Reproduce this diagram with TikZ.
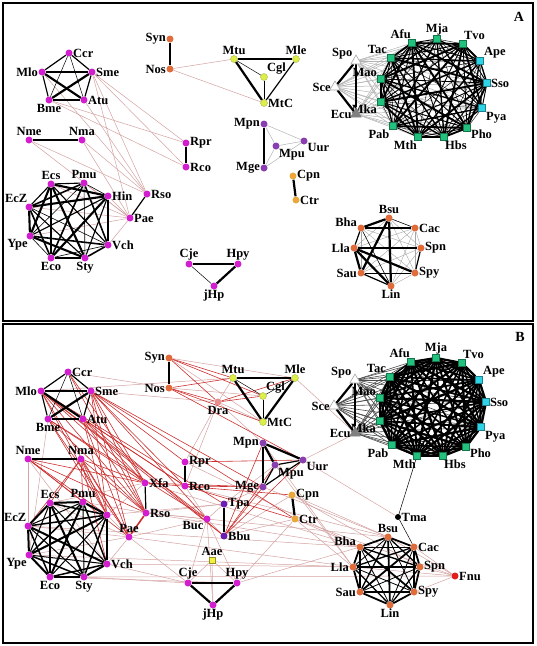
\documentclass[tikz,border=0pt]{standalone}
\usepackage{fontspec}
\setmainfont{Liberation Serif}
\usetikzlibrary{backgrounds,shapes.geometric}
\definecolor{cMag}{HTML}{D21ECF}
\definecolor{cOrg}{HTML}{E06C3C}
\definecolor{cYel}{HTML}{DCEE4A}
\definecolor{cPur}{HTML}{8A3FB0}
\definecolor{cGld}{HTML}{EBA83A}
\definecolor{cGrn}{HTML}{22C27E}
\definecolor{cCyn}{HTML}{2ED3E6}
\definecolor{cDra}{HTML}{E89090}
\definecolor{cVio}{HTML}{6A1FB0}
\definecolor{cAae}{HTML}{F2F23C}
\definecolor{cFnu}{HTML}{E01E1E}
\definecolor{cRed}{HTML}{CC2E2E}
\definecolor{cPnk}{HTML}{D4A2A2}
\tikzstyle{vtx}=[circle, inner sep=0pt, minimum size=7pt]
\tikzstyle{mg}=[vtx, fill=cMag]
\tikzstyle{og}=[vtx, fill=cOrg]
\tikzstyle{yg}=[vtx, fill=cYel, draw=cYel!70!black, line width=0.3pt]
\tikzstyle{pu}=[vtx, fill=cPur]
\tikzstyle{gd}=[vtx, fill=cGld]
\tikzstyle{gsq}=[rectangle, inner sep=0pt, minimum size=7pt, fill=cGrn, draw=cGrn!60!black, line width=0.3pt]
\tikzstyle{csq}=[gsq, fill=cCyn, draw=cCyn!60!black]
\tikzstyle{tri}=[regular polygon, regular polygon sides=3, inner sep=0pt, minimum size=12pt, draw=gray!70, fill=white, line width=0.6pt]
\tikzstyle{hv}=[line width=2.2pt]
\tikzstyle{md}=[line width=1.2pt]
\tikzstyle{tn}=[line width=0.5pt]
\tikzstyle{gy}=[line width=0.5pt, gray!60]
\tikzstyle{pk}=[line width=0.5pt, cPnk]
\tikzstyle{rd}=[line width=0.6pt, cRed]
\tikzstyle{frame}=[line width=1.4pt]
\tikzstyle{tag}=[font=\bfseries\fontsize{14}{14}\selectfont]

% node lists: name/x/y/label position
\newcommand{\magList}{Ccr/69/53/right, Mlo/42/72/left, Sme/92/72/right, Bme/49/100/below, Atu/84/100/right, Nme/29/140/above, Nma/82/140/above, Rpr/186/143/right, Rco/186/167/right, Ecs/51/184/above, Pmu/84/183/above, Rso/147/194/right, EcZ/29/207/110, Ype/30/236/240, Vch/108/245/right, Eco/51/258/below, Sty/85/258/below, Cje/189/264/above, Hpy/238/264/above, jHp/214/286/below}
\newcommand{\orgList}{Syn/170/39/left, Nos/170/69/left, Bsu/389/218/above, Bha/361/228/170, Cac/415/228/right, Lla/354/248/left, Spn/421/248/right, Sau/361/273/left, Spy/415/273/right, Lin/391/286/below}
\newcommand{\yelList}{Mtu/234/59/above, Mle/296/59/above, Cgl/264/77/45, MtC/264/103/right}
\newcommand{\purList}{Mpn/264/124/left, Mpu/276/146/-45, Uur/304/141/-30, Mge/264/168/left}
\newcommand{\gldList}{Cpn/293/176/right, Ctr/296/200/right}
\newcommand{\grnList}{Afu/412/43/100, Mja/437/39/above, Tvo/463/44/80, Tac/391/58/135, Mao/381/79/150, Mka/381/102/215, Pab/393/126/230, Mth/418/137/-100, Hbs/444/137/-80, Pho/467/128/-25}
\newcommand{\cynList}{Ape/480/61/30, Sso/487/83/right, Pya/482/108/-45}
\newcommand{\sqNames}{Afu,Mja,Tvo,Ape,Sso,Pya,Pho,Hbs,Mth,Pab,Mka,Mao,Tac}
\newcommand{\octNames}{Ecs,Pmu,Hin,Vch,Sty,Eco,Ype,EcZ}
\newcommand{\firNames}{Bsu,Cac,Spn,Spy,Lin,Sau,Lla,Bha}
\newcommand{\pentEdges}{Mlo/Sme/hv, Mlo/Atu/hv, Sme/Bme/hv, Bme/Atu/hv, Mlo/Ccr/md, Ccr/Sme/md, Mlo/Bme/md, Sme/Atu/md, Ccr/Bme/tn, Ccr/Atu/tn, Nme/Nma/hv, Syn/Nos/hv, Rpr/Rco/hv, Cpn/Ctr/hv, Hpy/jHp/hv, Mpn/Mge/hv, Spo/Ecu/hv, Sce/Spo/hv, Sce/Ecu/hv, Mtu/MtC/hv}

\newcommand{\putnodes}{%
  \foreach \n/\x/\y/\l in \magList {\node[mg, label=\l:\n] (\p-\n) at (\x,\y) {};}
  \foreach \n/\x/\y/\l in \orgList {\node[og, label=\l:\n] (\p-\n) at (\x,\y) {};}
  \foreach \n/\x/\y/\l in \yelList {\node[yg, label=\l:\n] (\p-\n) at (\x,\y) {};}
  \foreach \n/\x/\y/\l in \purList {\node[pu, label=\l:\n] (\p-\n) at (\x,\y) {};}
  \foreach \n/\x/\y/\l in \gldList {\node[gd, label=\l:\n] (\p-\n) at (\x,\y) {};}
  \foreach \n/\x/\y/\l in \grnList {\node[gsq, label=\l:\n] (\p-\n) at (\x,\y) {};}
  \foreach \n/\x/\y/\l in \cynList {\node[csq, label=\l:\n] (\p-\n) at (\x,\y) {};}
  \node[tri, label=160:Spo] (\p-Spo) at (356,61) {};
  \node[tri, label=left:Sce] (\p-Sce) at (335,87) {};
  \node[tri, fill=gray, draw=gray, label=left:Ecu] (\p-Ecu) at (356,114) {};
}

\begin{document}
\begin{tikzpicture}[x=1pt, y=-1pt, every label/.style={font=\bfseries\fontsize{12.5}{12.5}\selectfont, inner sep=0.3pt}, label distance=0pt]
\useasboundingbox (0,0) rectangle (537,646);
\draw[frame] (3,3) rectangle (533,321);
\draw[frame] (3,324) rectangle (533,643);
\node[tag] (tagA) at (519,17) {A};
\node[tag] (tagB) at (520,337) {B};

% panel A
\begin{scope}
\def\p{a}
\putnodes
\node[mg, label=right:Hin] (a-Hin) at (108,196) {};
\node[mg, label=right:Pae] (a-Pae) at (130,218) {};
\begin{pgfonlayer}{background}
\foreach \u/\v in {Nos/Mtu, Nos/MtC, Sme/Rpr, Sme/Rco, Sme/Rso, Sme/Pae, Bme/Rpr, Bme/Rco, Mlo/Rso, Atu/Rso, Nme/Rso, Nme/Pae, Nma/Rso, Nma/Pae, Pae/Hin, Pae/EcZ, Pae/Ype, Pae/Ecs, Pae/Vch, Pae/Pmu}
  \draw[pk] (a-\u) -- (a-\v);
\foreach \u/\v in {Mpn/Mpu, Mpn/Uur, Mpu/Uur, Mge/Mpu, Mge/Uur}
  \draw[gy] (a-\u) -- (a-\v);
\foreach \t in {Spo,Sce,Ecu} \foreach \s in \sqNames \draw[gy] (a-\t) -- (a-\s);
\foreach \u [count=\i] in \firNames {\foreach \v [count=\j] in \firNames {\ifnum\j>\i
  \draw[line width=0.4pt, gray!70] (a-\u) -- (a-\v);\fi}}
\foreach \u/\v/\w in {Bha/Bsu/hv, Bha/Cac/md, Lla/Spn/md, Lla/Sau/hv, Lla/Lin/hv, Lla/Spy/hv, Bsu/Sau/hv, Bsu/Lin/hv, Sau/Lin/md, Spn/Spy/md, Bha/Lla/md, Bha/Lin/tn, Sau/Spy/tn, Bsu/Cac/tn}
  \draw[\w] (a-\u) -- (a-\v);
\foreach \u [count=\i] in \octNames {\foreach \v [count=\j] in \octNames {\ifnum\j>\i
  \draw[line width={0.6+0.5*mod(\i+2*\j,4)}] (a-\u) -- (a-\v);\fi}}
\foreach \u [count=\i] in \sqNames {\foreach \v [count=\j] in \sqNames {\ifnum\j>\i
  \draw[line width={0.4+0.5*mod(\i+2*\j,4)}] (a-\u) -- (a-\v);\fi}}
\foreach \u/\v/\w in \pentEdges \draw[\w] (a-\u) -- (a-\v);
\foreach \u/\v/\w in {Rso/Pae/md, Cje/Hpy/md, Cje/jHp/tn, Mtu/Mle/md, Mtu/Cgl/tn, Mle/MtC/md, Cgl/MtC/tn}
  \draw[\w] (a-\u) -- (a-\v);
\end{pgfonlayer}
\end{scope}

% panel B
\begin{scope}[shift={(-1,319)}]
\def\p{b}
\putnodes
\node[mg] (b-Hin) at (108,196) {};
\node[mg, label=above:Pae] (b-Pae) at (130,218) {};
\node[vtx, fill=cDra, label=below:Dra] (b-Dra) at (219,83) {};
\node[mg, label=right:Xfa] (b-Xfa) at (146,164) {};
\node[vtx, fill=cVio, label=right:Tpa] (b-Tpa) at (225,185) {};
\node[mg, label=215:Buc] (b-Buc) at (208,200) {};
\node[vtx, fill=cVio, label=right:Bbu] (b-Bbu) at (225,217) {};
\node[vtx, rectangle, minimum size=6.5pt, fill=cAae, draw=cAae!60!black, line width=0.3pt, label=above:Aae] (b-Aae) at (213,241) {};
\node[vtx, fill=black, minimum size=6pt, label=right:Tma] (b-Tma) at (399,198) {};
\node[vtx, fill=cFnu, label=right:Fnu] (b-Fnu) at (456,257) {};
\begin{pgfonlayer}{background}
\foreach \u/\v in {Ccr/Nos, Sme/Dra, Mlo/Mtu, Bme/Ype, Nme/EcZ, Nme/Vch, Syn/Mle, Syn/MtC, Nos/Cgl, Dra/Mtu, Dra/MtC, Dra/Rpr, Dra/Rco, Dra/Mpn, Mle/Ecu, Uur/Mka, Rso/Bha, Rso/Bsu, Pae/Lla, Pae/Cje, Xfa/Bha, Rco/Bsu, Rpr/Bha, Mge/Bsu, Mpn/Lla, Mpu/Lla, Ctr/Bha, Ctr/Lla, Cpn/Bsu, Ctr/Fnu, Cpn/Spn, Uur/Tma, Fnu/Spn, Fnu/Spy, Fnu/Cac, Fnu/Bsu, Fnu/Lla, Ype/Lla, EcZ/Bha, Sty/Fnu, Vch/Cje, Sty/Cje, Eco/Hpy, Vch/Lla, Buc/Cje, Buc/jHp, Buc/Hpy, Aae/jHp, Aae/Cje, Aae/Hpy, Buc/Bbu, Tpa/Buc, Rso/Buc, Pae/Buc, Hin/Tpa, Rso/Tpa, Tpa/Mge, Tpa/Mpu, Bbu/Ctr, Bbu/Cpn, Buc/Rco, Hpy/Ctr, Hpy/Bha, Pmu/Rso, Ecs/Xfa, Hin/Xfa, Pae/Hin, Pae/EcZ, Pae/Ype, Pae/Ecs, Pae/Vch}
  \draw[pk] (b-\u) -- (b-\v);
\foreach \u/\v in {Mlo/Rso, Mlo/Pae, Mlo/Xfa, Mlo/Rco, Mlo/Buc, Mlo/Bbu, Mlo/Hin, Mlo/Tpa, Sme/Rso, Sme/Pae, Sme/Xfa, Sme/Rco, Sme/Buc, Sme/Ctr, Sme/Mge, Sme/Hin, Sme/Rpr, Bme/Xfa, Bme/Rso, Bme/Pae, Bme/Buc, Bme/Hin, Atu/Rso, Atu/Pae, Atu/Xfa, Atu/Hin, Atu/Rco, Atu/Bbu, Nme/Pmu, Nme/Hin, Nme/Pae, Nme/Rso, Nme/Xfa, Nma/Ecs, Nma/Pmu, Nma/Hin, Nma/Pae, Nma/Rso, Nma/Xfa, Nma/Vch, Nma/EcZ, Ccr/Rso, Ccr/Xfa, Syn/Mtu, Syn/Cgl, Syn/Dra, Nos/Mtu, Nos/MtC, Nos/Dra, Nos/Uur, Dra/Mle, Dra/Cgl, Mge/Bbu, Mpu/Bbu, Uur/Bbu, Mpn/Bbu, Rpr/Uur, Rco/Mge, Xfa/Mge, Rco/Ctr, Xfa/Cpn}
  \draw[rd] (b-\u) -- (b-\v);
\foreach \t in {Spo,Sce,Ecu} \foreach \s in \sqNames \draw[line width=0.6pt, black!70] (b-\t) -- (b-\s);
\foreach \u [count=\i] in \firNames {\foreach \v [count=\j] in \firNames {\ifnum\j>\i
  \draw[line width={0.8+0.5*mod(\i+2*\j,3)}] (b-\u) -- (b-\v);\fi}}
\foreach \u [count=\i] in \octNames {\foreach \v [count=\j] in \octNames {\ifnum\j>\i
  \draw[line width={1.0+0.5*mod(\i+2*\j,3)}] (b-\u) -- (b-\v);\fi}}
\foreach \u [count=\i] in \sqNames {\foreach \v [count=\j] in \sqNames {\ifnum\j>\i
  \draw[line width={1.5+0.4*mod(\i+2*\j,3)}] (b-\u) -- (b-\v);\fi}}
\foreach \u/\v/\w in \pentEdges \draw[\w] (b-\u) -- (b-\v);
\foreach \u/\v/\w in {Cje/Hpy/hv, Cje/jHp/hv, Mtu/Mle/hv, Mle/MtC/hv, Mtu/Cgl/tn, Cgl/MtC/tn, Cgl/Mle/tn, Mpn/Mpu/hv, Mpn/Uur/hv, Mpu/Uur/md, Mge/Mpu/md, Mge/Uur/md, Xfa/Rso/md, Tpa/Bbu/md, Mth/Tma/tn, Tma/Cac/tn}
  \draw[\w] (b-\u) -- (b-\v);
\draw[line width=1.6pt, cRed] (b-Rso) -- (b-Pae);
\end{pgfonlayer}
\end{scope}
\end{tikzpicture}
\end{document}
